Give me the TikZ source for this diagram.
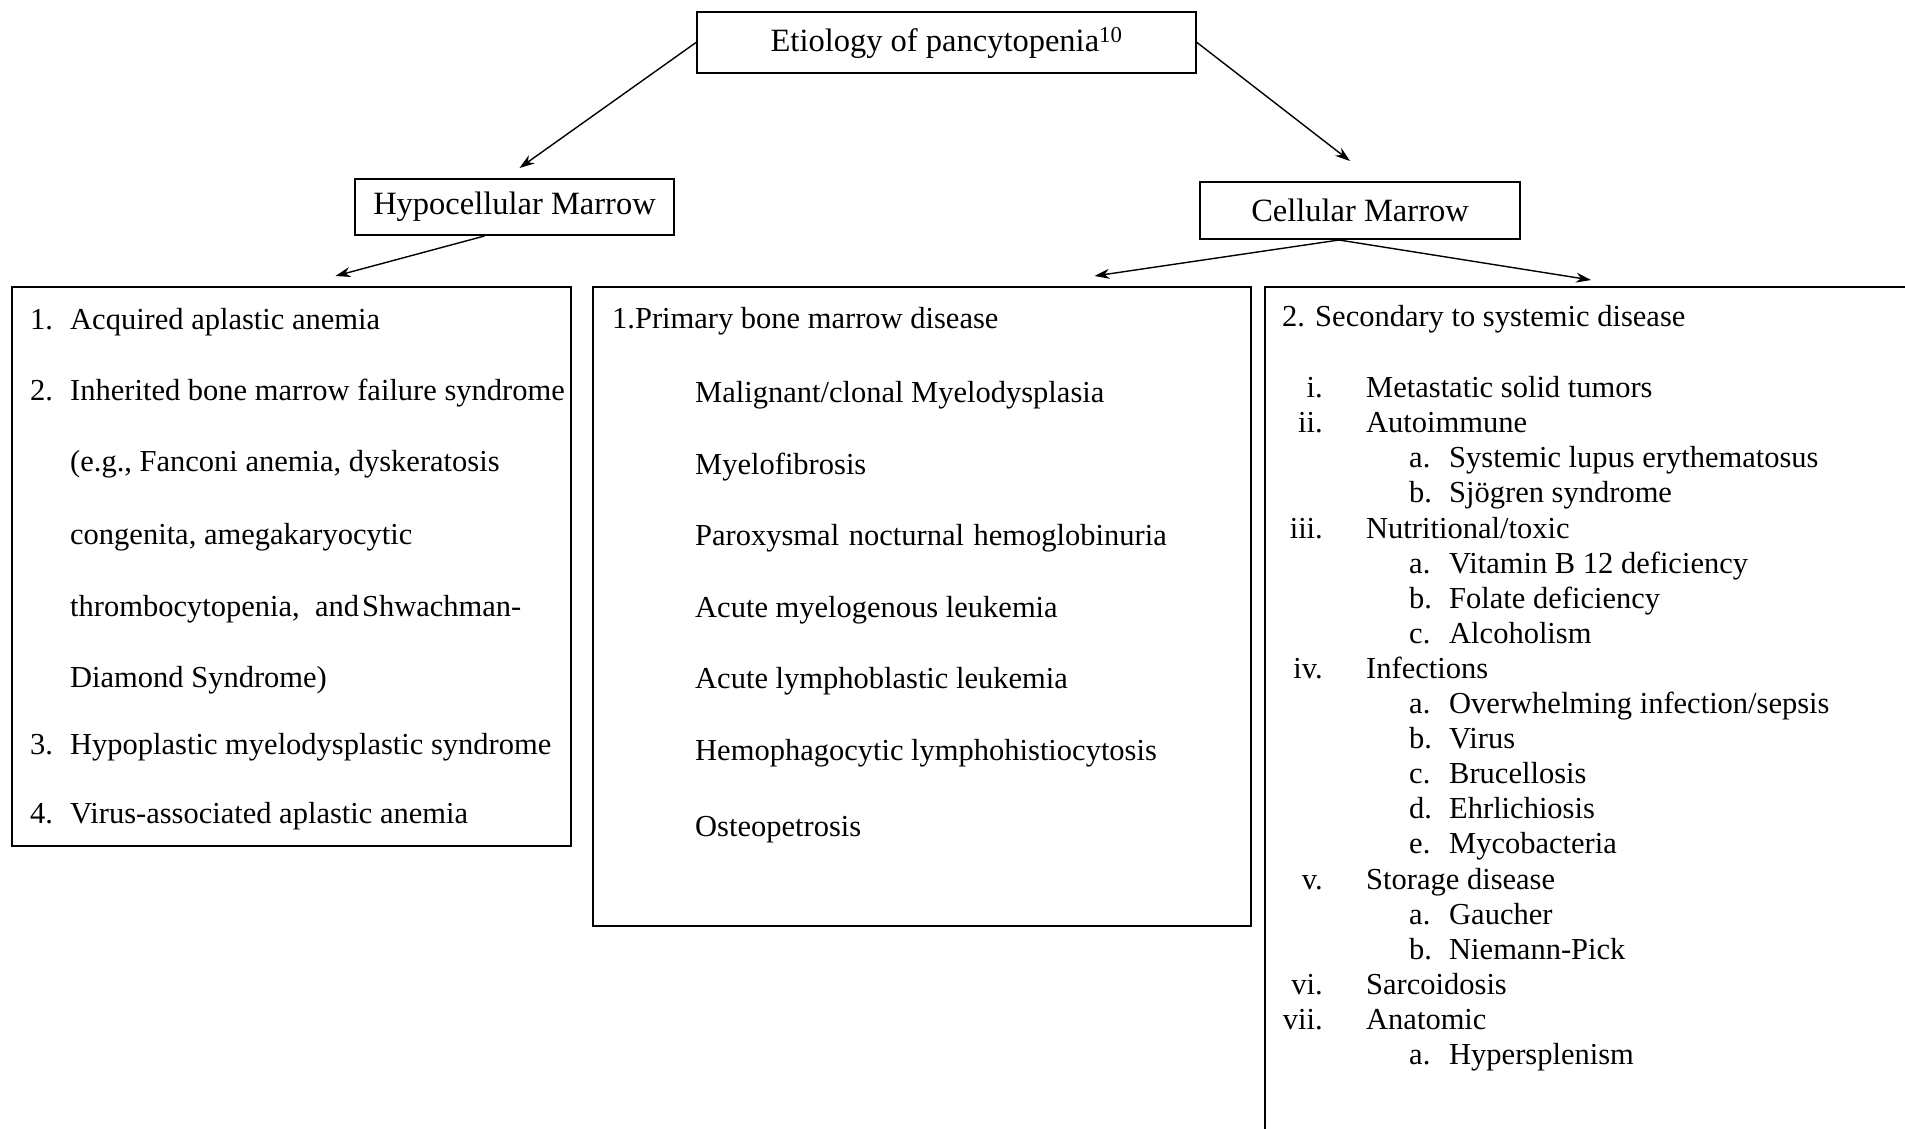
\documentclass[tikz,border=0pt]{standalone}
\usepackage{fontspec}
\setmainfont{Liberation Serif}
\usetikzlibrary{arrows.meta,calc}
\newcommand\bodyfont{\fontsize{30.5}{36}\selectfont}
\newcommand\headfont{\fontsize{32.5}{38}\selectfont}
\begin{document}
\begin{tikzpicture}[x=1pt,y=-1pt,
 box/.style={draw,line width=2pt,inner sep=0pt},
 arr/.style={-{Stealth[length=15pt,width=10pt]},line width=1.4pt},
 item/.style={anchor=base west,inner sep=0pt,font=\bodyfont},
 num/.style={anchor=base east,inner sep=0pt,font=\bodyfont}]
\useasboundingbox (0,0) rectangle (1905,1128);
\clip (0,0) rectangle (1905,1128);
% header boxes
\node[box,minimum width=499pt,minimum height=61pt,font=\headfont] (top) at (946.5,42.5) {Etiology of pancytopenia\textsuperscript{10}};
\node[box,minimum width=319pt,minimum height=56pt,font=\headfont] (hypo) at (514.5,207) {Hypocellular Marrow};
\node[box,minimum width=320pt,minimum height=57pt,font=\headfont] (cell) at (1360,210.5) {Cellular Marrow};
% list boxes
\node[box,minimum width=559pt,minimum height=559pt] (lbox) at (291.5,566.5) {};
\node[box,minimum width=658pt,minimum height=639pt] (mbox) at (921.5,606.5) {};
\node[box,minimum width=700pt,minimum height=900pt] (rbox) at (1615,737) {};
% arrows
\draw[arr] (top.west) -- ($(hypo.north)+(5,-10)$);
\draw[arr] (top.east) -- ($(cell.north)+(-10,-20)$);
\draw[arr] ($(hypo.south)+(-30,0)$) -- ($(lbox.north)+(44,-10)$);
\draw[arr] ($(cell.south)+(-21,0)$) -- ($(mbox.north)+(173,-10)$);
\draw[arr] ($(cell.south)+(-21,0)$) -- ($(rbox.north west)+(327,-6)$);
% left list
\node[item] (l1n) at (30,329) {1.};
\node[item] (l1) at (70,329) {Acquired aplastic anemia};
\node[item] (l2n) at (30,400) {2.};
\node[item] (l2) at (70,400) {Inherited bone marrow failure syndrome};
\node[item] (l2b) at (70,471) {(e.g., Fanconi anemia, dyskeratosis};
\node[item] (l2c) at (70,544) {congenita, amegakaryocytic};
\node[item] (l2d) at (70,616) {thrombocytopenia,\ \ and\hspace{3pt}Shwachman-};
\node[item] (l2e) at (70,687) {Diamond Syndrome)};
\node[item] (l3n) at (30,754) {3.};
\node[item] (l3) at (70,754) {Hypoplastic myelodysplastic syndrome};
\node[item] (l4n) at (30,823) {4.};
\node[item] (l4) at (70,823) {Virus-associated aplastic anemia};
% middle list
\node[item] (mh) at (612,328.5) {1.Primary bone marrow disease};
\node[item] (m1) at (695,402) {Malignant/clonal Myelodysplasia};
\node[item] (m2) at (695,474) {Myelofibrosis};
\node[item] (m3) at (695,545) {Paroxysmal\hspace{2pt} nocturnal\hspace{2pt} hemoglobinuria};
\node[item] (m4) at (695,617) {Acute myelogenous leukemia};
\node[item] (m5) at (695,688) {Acute lymphoblastic leukemia};
\node[item] (m6) at (695,760) {Hemophagocytic lymphohistiocytosis};
\node[item] (m7) at (695,836) {Osteopetrosis};
% right list
\node[item] (rh) at (1282,326) {2. Secondary to systemic disease};
\node[num] (r0n) at (1323,397.6) {i.};
\node[item] (r0) at (1366,397.6) {Metastatic solid tumors};
\node[num] (r1n) at (1323,432.7) {ii.};
\node[item] (r1) at (1366,432.7) {Autoimmune};
\node[item] (r2n) at (1409,467.8) {a.};
\node[item] (r2) at (1449,467.8) {Systemic lupus erythematosus};
\node[item] (r3n) at (1409,502.9) {b.};
\node[item] (r3) at (1449,502.9) {Sjögren syndrome};
\node[num] (r4n) at (1323,538.0) {iii.};
\node[item] (r4) at (1366,538.0) {Nutritional/toxic};
\node[item] (r5n) at (1409,573.1) {a.};
\node[item] (r5) at (1449,573.1) {Vitamin B 12 deficiency};
\node[item] (r6n) at (1409,608.2) {b.};
\node[item] (r6) at (1449,608.2) {Folate deficiency};
\node[item] (r7n) at (1409,643.3) {c.};
\node[item] (r7) at (1449,643.3) {Alcoholism};
\node[num] (r8n) at (1323,678.4) {iv.};
\node[item] (r8) at (1366,678.4) {Infections};
\node[item] (r9n) at (1409,713.5) {a.};
\node[item] (r9) at (1449,713.5) {Overwhelming infection/sepsis};
\node[item] (r10n) at (1409,748.6) {b.};
\node[item] (r10) at (1449,748.6) {Virus};
\node[item] (r11n) at (1409,783.7) {c.};
\node[item] (r11) at (1449,783.7) {Brucellosis};
\node[item] (r12n) at (1409,818.8) {d.};
\node[item] (r12) at (1449,818.8) {Ehrlichiosis};
\node[item] (r13n) at (1409,853.9) {e.};
\node[item] (r13) at (1449,853.9) {Mycobacteria};
\node[num] (r14n) at (1323,889.0) {v.};
\node[item] (r14) at (1366,889.0) {Storage disease};
\node[item] (r15n) at (1409,924.1) {a.};
\node[item] (r15) at (1449,924.1) {Gaucher};
\node[item] (r16n) at (1409,959.2) {b.};
\node[item] (r16) at (1449,959.2) {Niemann-Pick};
\node[num] (r17n) at (1323,994.3) {vi.};
\node[item] (r17) at (1366,994.3) {Sarcoidosis};
\node[num] (r18n) at (1323,1029.4) {vii.};
\node[item] (r18) at (1366,1029.4) {Anatomic};
\node[item] (r19n) at (1409,1064.5) {a.};
\node[item] (r19) at (1449,1064.5) {Hypersplenism};
\end{tikzpicture}
\end{document}
